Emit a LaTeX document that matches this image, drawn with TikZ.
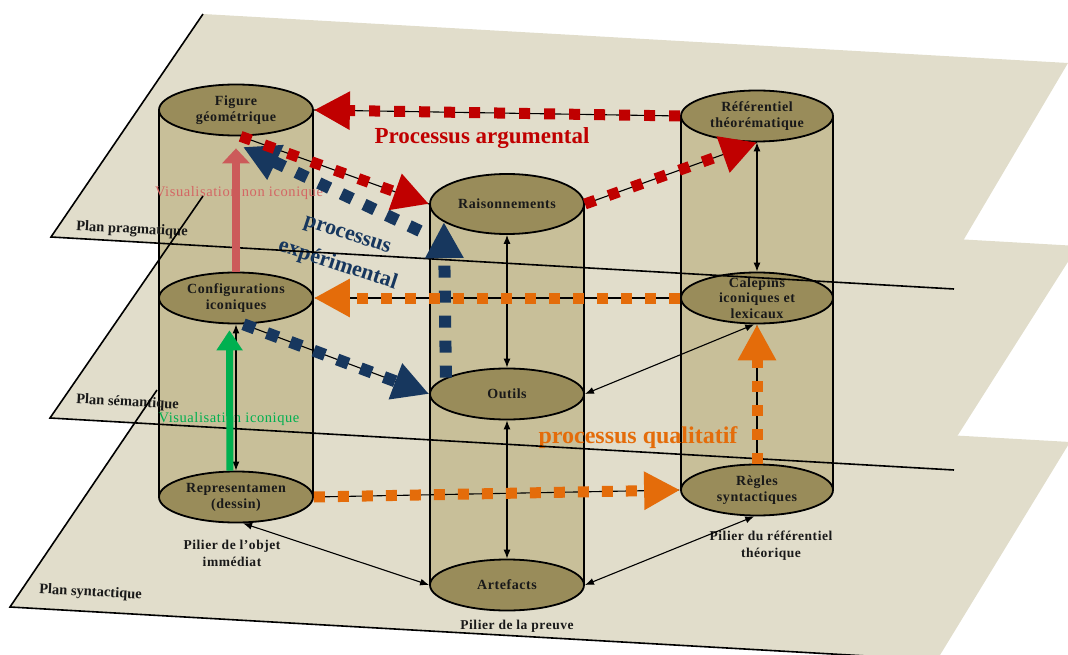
\documentclass[tikz,border=0pt]{standalone}
\usepackage{fontspec}
\setmainfont{Liberation Serif}
\usetikzlibrary{arrows.meta,shapes.geometric,calc}
\definecolor{planec}{HTML}{E1DDCB}
\definecolor{cylbody}{HTML}{C8BF99}
\definecolor{cyltop}{HTML}{998C5A}
\definecolor{pred}{HTML}{C00000}
\definecolor{pblue}{HTML}{17375E}
\definecolor{porange}{HTML}{E46C0A}
\definecolor{pgreen}{HTML}{00B050}
\definecolor{ppink}{HTML}{CC5A5A}
\definecolor{ppinktext}{HTML}{D46664}
\begin{document}
\begin{tikzpicture}[x=1pt,y=-1pt,
  ell/.style={ellipse, draw=black, line width=1.8pt, fill=cyltop, minimum width=154pt, minimum height=51pt, inner sep=0pt},
  ntxt/.style={font=\bfseries\fontsize{14}{16}\selectfont\addfontfeatures{LetterSpace=4}, align=center, text=black!90, inner sep=0pt},
  piltxt/.style={font=\bfseries\fontsize{13.5}{17}\selectfont\addfontfeatures{LetterSpace=4}, align=center, text=black!90, inner sep=0pt},
  planetxt/.style={font=\bfseries\fontsize{14.5}{16}\selectfont, text=black!90, inner sep=0pt, anchor=west, rotate=-3},
  vistxt/.style={font=\fontsize{14.5}{16}\selectfont\addfontfeatures{LetterSpace=4}, inner sep=0pt},
  planeline/.style={black, line width=1.6pt},
  cylside/.style={black, line width=1.3pt},
  thinarr/.style={black, line width=1.1pt, {Latex[length=9pt,width=7pt]}-{Latex[length=9pt,width=7pt]}},
  thinln/.style={black, line width=1.1pt},
  bigtip/.style={-{Triangle[length=36pt,width=36pt]}},
  redp/.style={pred, line width=11pt, dash pattern=on 11pt off 14pt, bigtip},
  bluep/.style={pblue, line width=12pt, dash pattern=on 12pt off 13pt, bigtip},
  orp/.style={porange, line width=11pt, dash pattern=on 11pt off 13pt, bigtip},
]
\useasboundingbox (0,0) rectangle (1068,655);
% planes
\fill[planec] (157,390) -- (1070,442) -- (937,660) -- (10,607) -- cycle;
\fill[planec] (203,196) -- (1078,246) -- (937,468) -- (50,418) -- cycle;
\fill[planec] (203,14) -- (1068,63) -- (934,290) -- (51,237) -- cycle;
% cylinder bodies
\fill[cylbody] (159,110) rectangle (313,497);
\fill[cylbody] (430,204) rectangle (584,585);
\fill[cylbody] (681,116) rectangle (833,490);
\draw[cylside] (159,110) -- (159,497) (313,110) -- (313,497);
\draw[cylside] (430,204) -- (430,585) (584,204) -- (584,585);
\draw[cylside] (681,116) -- (681,490) (833,116) -- (833,490);
% ellipses
\node[ell] (fig) at (236,110) {};
\node[ell] (conf) at (236,298) {};
\node[ell] (rep) at (236,497) {};
\node[ell, minimum height=60pt] (rais) at (507,204) {};
\node[ell] (outi) at (507,394) {};
\node[ell] (arte) at (507,585) {};
\node[ell, minimum width=152pt] (ref) at (757,116) {};
\node[ell, minimum width=152pt] (cal) at (757,298) {};
\node[ell, minimum width=152pt] (reg) at (757,490) {};
\node[ntxt] (figT) at (fig) {Figure\\géométrique};
\node[ntxt] (confT) at (conf) {Configurations\\iconiques};
\node[ntxt] (repT) at (rep) {Representamen\\(dessin)};
\node[ntxt] (raisT) at (rais) {Raisonnements};
\node[ntxt] (outiT) at (outi) {Outils};
\node[ntxt] (arteT) at (arte) {Artefacts};
\node[ntxt] (refT) at (ref) {Référentiel\\théorématique};
\node[ntxt, font=\bfseries\fontsize{14}{15.5}\selectfont\addfontfeatures{LetterSpace=4}] (calT) at (cal) {Calepins\\iconiques et\\lexicaux};
\node[ntxt] (regT) at (reg) {Règles\\syntactiques};
% labels
\node[font=\bfseries\fontsize{23}{26}\selectfont, text=pred, inner sep=0pt] (argT) at (482,138) {Processus argumental};
\node[font=\bfseries\fontsize{22}{32}\selectfont, text=pblue, inner sep=0pt, align=center, rotate=-18] (expT) at (342,252) {processus\\expérimental};
\node[font=\bfseries\fontsize{24}{26}\selectfont, text=porange, inner sep=0pt] (qualT) at (638,438) {processus qualitatif};
\node[vistxt, text=ppinktext] (visnT) at (239,193) {Visualisation non iconique};
\node[vistxt, text=pgreen] (visT) at (229,419) {Visualisation iconique};
\node[planetxt] (ppT) at (76,227) {Plan pragmatique};
\node[planetxt] (psT) at (76,400) {Plan sémantique};
\node[planetxt] (pstT) at (39,590) {Plan syntactique};
\node[piltxt] (p1T) at (232,553) {Pilier de l’objet\\immédiat};
\node[piltxt] (p2T) at (517,626) {Pilier de la preuve};
\node[piltxt] (p3T) at (771,546) {Pilier du référentiel\\théorique};
% plane edge lines
\draw[planeline] (203,14) -- (51,237) -- (954,289);
\draw[planeline] (203,196) -- (50,418) -- (954,470);
\draw[planeline] (157,390) -- (10,607) -- (937,660);
% thin black connectors
\draw[thinarr] (conf.south) -- (rep.north);
\draw[thinarr] (rais.south) -- (outi.north);
\draw[thinarr] (outi.south) -- (arte.north);
\draw[thinarr] (ref.south) -- (cal.north);
\draw[thinarr] (cal.-96) -- (outi.east);
\draw[thinarr] (reg.-96) -- (arte.east);
\draw[thinarr] (rep.-75) -- (arte.west);
\draw[thinln] (ref.west) -- (fig.east);
\draw[thinln] (fig.-80) -- (rais.west);
\draw[thinln] (rais.east) -- (ref.south);
\draw[thinarr] (conf.-74) -- (outi.west);
\draw[thinarr] (cal.west) -- (conf.east);
\draw[thinarr] (rep.east) -- (reg.west);
\draw[thinarr] (reg.north) -- (cal.south);
% coloured process arrows
\coordinate (bstart) at (420,231);
\coordinate (bend) at (243,147);
\draw[ppink, line width=8.5pt, -{Triangle[length=15pt,width=27pt]}, shorten >=12pt] (conf.north) -- (fig.south);
\draw[pgreen, line width=7pt, -{Triangle[length=20pt,width=25pt]}, shorten >=6pt] (rep.103.5) -- (conf.256.5);
\draw[bluep] (bstart) -- (bend);
\draw[bluep] (outi.165.3) -- (rais.196.7);
\draw[bluep] (conf.-74) -- (outi.west);
\draw[redp] (ref.west) -- (fig.east);
\draw[redp] (fig.-80) -- (rais.west);
\draw[redp] (rais.east) -- (ref.south);
\draw[orp] (cal.west) -- (conf.east);
\draw[orp] (rep.east) -- (reg.west);
\draw[orp] (reg.north) -- (cal.south);
\end{tikzpicture}
\end{document}
